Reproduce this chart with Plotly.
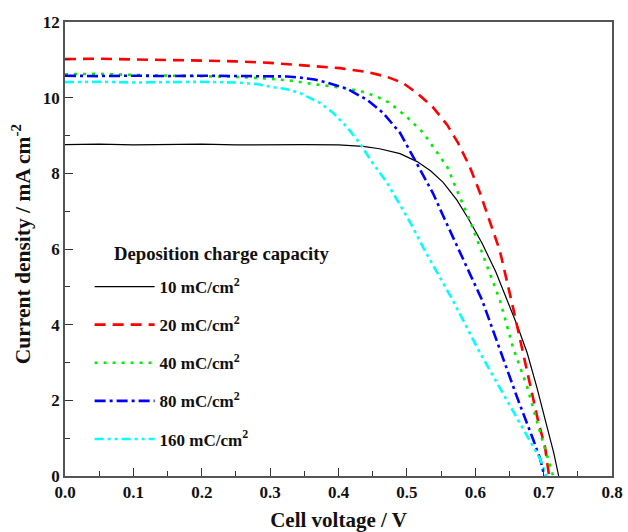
import plotly.graph_objects as go

# ---- data ----
v10 = [0.0, 0.05, 0.1, 0.15, 0.2, 0.25, 0.3, 0.35, 0.4, 0.436, 0.46, 0.49, 0.515, 0.535, 0.553, 0.573, 0.59, 0.61, 0.63, 0.646, 0.662, 0.676, 0.69, 0.705, 0.715, 0.722]
j10 = [8.76, 8.77, 8.75, 8.76, 8.77, 8.75, 8.76, 8.76, 8.75, 8.71, 8.65, 8.52, 8.31, 8.06, 7.76, 7.30, 6.80, 6.15, 5.40, 4.68, 3.95, 3.25, 2.35, 1.30, 0.60, 0.0]

v20 = [0.0, 0.05, 0.1, 0.15, 0.2, 0.25, 0.3, 0.344, 0.402, 0.442, 0.471, 0.494, 0.515, 0.538, 0.559, 0.575, 0.592, 0.607, 0.62, 0.636, 0.655, 0.668, 0.68, 0.692, 0.702, 0.708]
j20 = [11.02, 11.03, 11.01, 11.0, 10.98, 10.96, 10.92, 10.86, 10.78, 10.68, 10.55, 10.39, 10.12, 9.75, 9.28, 8.80, 8.17, 7.48, 6.80, 5.95, 4.47, 3.40, 2.35, 1.45, 0.77, 0.0]

v40 = [0.0, 0.05, 0.1, 0.15, 0.2, 0.25, 0.3, 0.335, 0.363, 0.402, 0.431, 0.456, 0.475, 0.5, 0.524, 0.538, 0.559, 0.573, 0.59, 0.61, 0.636, 0.655, 0.676, 0.695, 0.705, 0.714]
j40 = [10.62, 10.63, 10.6, 10.58, 10.57, 10.55, 10.5, 10.44, 10.36, 10.27, 10.18, 10.03, 9.86, 9.49, 9.07, 8.72, 8.17, 7.56, 6.85, 5.90, 4.65, 3.41, 2.35, 1.14, 0.55, 0.0]

v80 = [0.0, 0.05, 0.1, 0.15, 0.2, 0.25, 0.3, 0.325, 0.344, 0.365, 0.383, 0.412, 0.442, 0.465, 0.49, 0.509, 0.524, 0.538, 0.555, 0.575, 0.592, 0.61, 0.636, 0.661, 0.685, 0.695, 0.701]
j80 = [10.58, 10.57, 10.58, 10.57, 10.58, 10.57, 10.57, 10.56, 10.53, 10.48, 10.40, 10.24, 9.94, 9.60, 9.07, 8.45, 7.93, 7.48, 6.80, 6.00, 5.35, 4.65, 3.33, 2.09, 0.95, 0.45, 0.0]

v160 = [0.0, 0.05, 0.1, 0.15, 0.2, 0.25, 0.28, 0.304, 0.325, 0.344, 0.373, 0.392, 0.412, 0.431, 0.45, 0.471, 0.483, 0.505, 0.525, 0.545, 0.567, 0.607, 0.646, 0.68, 0.695, 0.704]
j160 = [10.41, 10.42, 10.4, 10.41, 10.42, 10.4, 10.36, 10.28, 10.22, 10.12, 9.86, 9.60, 9.23, 8.80, 8.27, 7.75, 7.38, 6.70, 6.00, 5.35, 4.65, 3.25, 2.00, 0.95, 0.45, 0.0]

names = ["10 mC/cm<sup>2</sup>", "20 mC/cm<sup>2</sup>", "40 mC/cm<sup>2</sup>",
         "80 mC/cm<sup>2</sup>", "160 mC/cm<sup>2</sup>"]
legend_title = "Deposition charge capacity"
x_title = "Cell voltage / V"
y_title = "Current density / mA cm<sup>-2</sup>"
xs = [v10, v20, v40, v80, v160]
ys = [j10, j20, j40, j80, j160]
colors = ["#000000", "#ff0000", "#00ee00", "#0000ff", "#00ffff"]
dashes = ["solid", "11px,7px", "3px,6px", "11px,4px,3px,4px", "9px,4px,3px,4px,3px,4px"]
widths = [1.2, 2.6, 2.6, 2.6, 2.6]

fig = go.Figure()
for i in range(5):
    fig.add_trace(go.Scatter(x=xs[i], y=ys[i], mode="lines", name=names[i],
                             legendgroup=str(i),
                             line=dict(color=colors[i], dash=dashes[i], width=widths[i])))

font_fam = "Liberation Serif"
axis_common = dict(showline=True, linecolor="#555555", linewidth=1.5, mirror=True,
                   ticks="inside", ticklen=8, tickwidth=1.3, tickcolor="#333333",
                   showgrid=False, zeroline=False, automargin=False,
                   tickfont=dict(family=font_fam, size=17, color="#111111", weight="bold"))
fig.update_xaxes(range=[0, 0.8], dtick=0.1, tickformat=".1f",
                 minor=dict(ticks="inside", ticklen=5, tickwidth=1.2, dtick=0.05, tickcolor="#333333"),
                 title=dict(text=x_title, font=dict(family=font_fam, size=21, color="#111111", weight="bold"), standoff=12),
                 **axis_common)
fig.update_yaxes(range=[0, 12], dtick=2,
                 minor=dict(ticks="inside", ticklen=5, tickwidth=1.2, dtick=1, tickcolor="#333333"),
                 **axis_common)

fig.add_annotation(text=y_title, xref="paper", yref="paper", textangle=-90,
                   x=-0.079, y=0.51, xanchor="center", yanchor="middle", showarrow=False,
                   font=dict(family=font_fam, size=21.5, color="#111111", weight="bold"))

fig.add_annotation(text=legend_title, xref="paper", yref="paper",
                   x=0.086, y=0.491, xanchor="left", yanchor="middle", showarrow=False,
                   font=dict(family=font_fam, size=18.7, color="#111111", weight="bold"))

fig.update_layout(
    width=628, height=532,
    margin=dict(l=65, r=16, t=22, b=56),
    plot_bgcolor="white", paper_bgcolor="white",
    font=dict(family=font_fam, color="#111111", weight="bold"),
    showlegend=True,
    legend=dict(x=0.045, y=0.456, xanchor="left", yanchor="top",
                bgcolor="rgba(0,0,0,0)", traceorder="grouped", tracegroupgap=13,
                font=dict(family=font_fam, size=17, color="#111111", weight="bold"),
                itemwidth=60),
)

fig.write_html("out.html")
